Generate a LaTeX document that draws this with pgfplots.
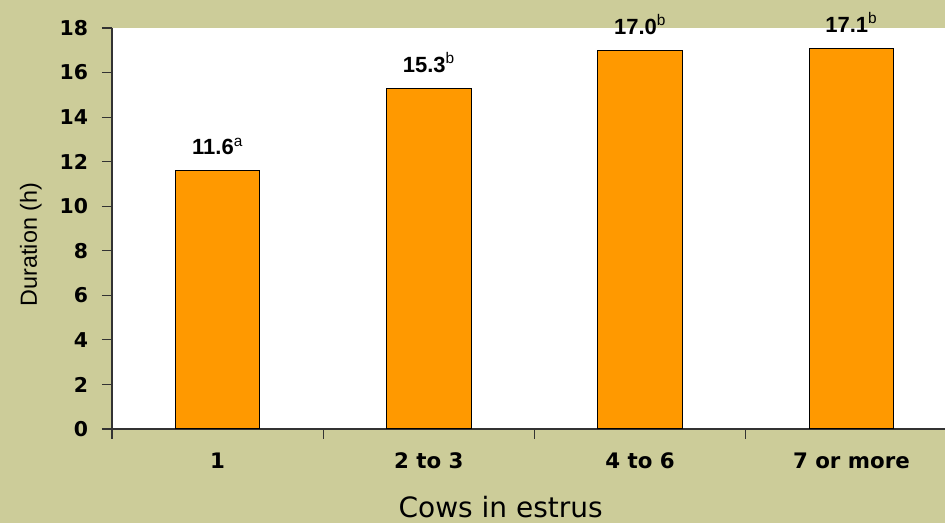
\documentclass[border=0pt]{standalone}
\usepackage{fontspec}
\setmainfont{DejaVu Sans}
\newfontfamily\labfont{Liberation Sans}
\usepackage{pgfplots}
\pgfplotsset{compat=1.18}
\definecolor{bgcol}{RGB}{204,204,153}
\definecolor{barcol}{RGB}{255,153,0}
\begin{document}
\begin{tikzpicture}[x=0.75pt,y=0.75pt]
\fill[bgcol] (0,0) rectangle (945,523);
\begin{scope}
\clip (0,0) rectangle (945,523);
\begin{axis}[
  at={(84pt,70.5pt)}, anchor=south west,
  scale only axis, width=633.75pt, height=300.75pt,
  xmin=-0.5, xmax=3.5, ymin=0, ymax=18,
  clip=false,
  axis background/.style={fill=white},
  axis x line*=bottom, axis y line*=left,
  x axis line style={-, black!80, line width=0.8pt},
  y axis line style={-, black!80, line width=0.8pt},
  tick align=outside,
  major tick length=7.5pt,
  tick style={black!80, line width=0.8pt},
  ytick={0,2,...,18},
  xtick={-0.5,0.5,1.5,2.5},
  xticklabels={},
  extra x ticks={0,1,2,3},
  extra x tick labels={1,2 to 3,4 to 6,7 or more},
  extra x tick style={major tick length=0pt,
    tick label style={anchor=base, yshift=-30pt}},
  /pgf/number format/assume math mode=true,
  yticklabel style={font=\bfseries\fontsize{15.3}{17}\selectfont, xshift=-7pt},
  xticklabel style={font=\bfseries\fontsize{16}{18}\selectfont},
  xlabel={Cows in estrus},
  xlabel style={font=\fontsize{21}{24}\selectfont, at={(axis description cs:0.46,0)}, anchor=base, yshift=-66.75pt},
  ylabel={Duration (h)},
  ylabel style={font=\labfont\fontsize{17.5}{20}\selectfont, at={(axis description cs:-0.0888,0.46)}, anchor=base},
  ybar, bar width=0.4,
  point meta=explicit symbolic,
  nodes near coords,
  every node near coord/.append style={anchor=base, yshift=12pt, inner sep=0pt, font=\labfont\bfseries\fontsize{16.5}{18}\selectfont, black},
]
\addplot[fill=barcol, draw=black, line width=0.75pt] coordinates {
  (0,11.6) [{11.6\textsuperscript{\mdseries a}}]
  (1,15.3) [{15.3\textsuperscript{\mdseries b}}]
  (2,17.0) [{17.0\textsuperscript{\mdseries b}}]
  (3,17.1) [{17.1\textsuperscript{\mdseries b}}]
};
\end{axis}
\end{scope}
\pgfresetboundingbox
\useasboundingbox (0,0) rectangle (945,523);
\end{tikzpicture}
\end{document}
